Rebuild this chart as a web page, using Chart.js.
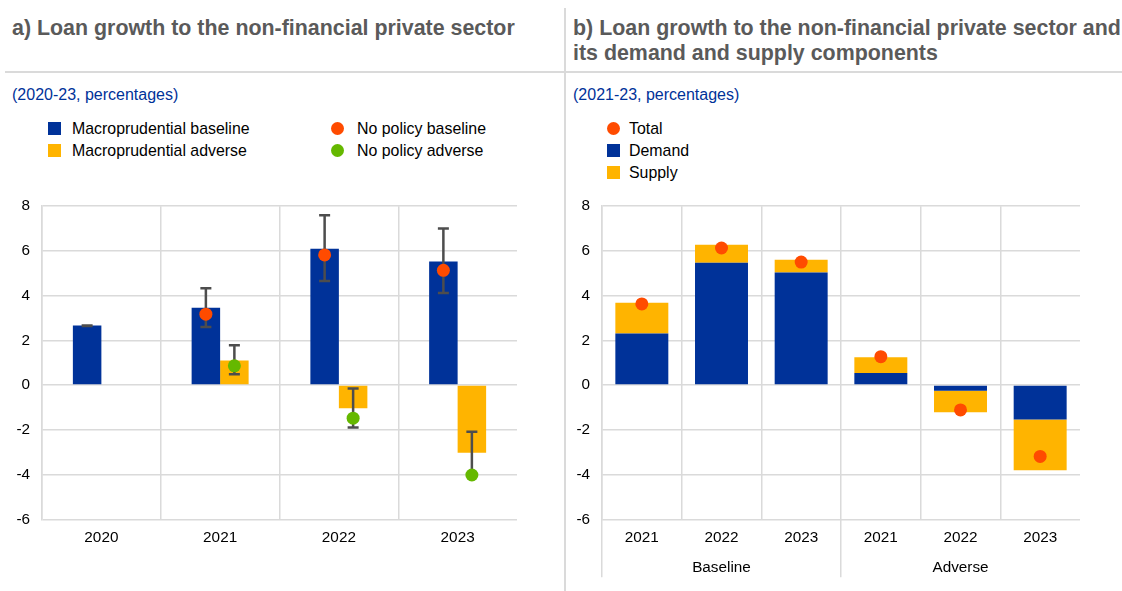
<!DOCTYPE html>
<html>
<head>
<meta charset="utf-8">
<script src="https://cdn.jsdelivr.net/npm/chart.js@4.4.1/dist/chart.umd.min.js"></script>
<style>
  body { margin: 0; width: 1122px; height: 591px; background: #fff; position: relative; overflow: hidden;
         font-family: Arial, "Liberation Sans", sans-serif; }
  .title { position: absolute; top: 16px; font-weight: bold; font-size: 21.4px; line-height: 25px; color: #5a5a5a; white-space: nowrap; }
  .sub { position: absolute; top: 86px; font-size: 16px; line-height: 18px; color: #003299; }
  .hr { position: absolute; left: 5px; right: 0; top: 71px; height: 2px; background: #dadada; }
  .vr { position: absolute; left: 564px; top: 8px; bottom: 0; width: 2px; background: #dadada; }
  .lg { position: absolute; font-size: 15.9px; line-height: 18px; color: #000; white-space: nowrap; }
  .sq, .dot { position: absolute; width: 13px; height: 13px; }
  .dot { border-radius: 50%; }
  canvas { position: absolute; }
</style>
</head>
<body>
<div class="title" style="left:12px">a) Loan growth to the non-financial private sector</div>
<div class="title" style="left:573px">b) Loan growth to the non-financial private sector and<br>its demand and supply components</div>
<div class="hr"></div>
<div class="vr"></div>
<div class="sub" style="left:12px">(2020-23, percentages)</div>
<div class="sub" style="left:573px">(2021-23, percentages)</div>

<!-- legend a -->
<div class="sq" style="left:48px;top:122px;background:#003299"></div>
<div class="lg" style="left:72px;top:120px">Macroprudential baseline</div>
<div class="sq" style="left:48px;top:144px;background:#ffb400"></div>
<div class="lg" style="left:72px;top:142px">Macroprudential adverse</div>
<div class="dot" style="left:331px;top:122px;background:#ff4b00"></div>
<div class="lg" style="left:357px;top:120px">No policy baseline</div>
<div class="dot" style="left:331px;top:144px;background:#65b800"></div>
<div class="lg" style="left:357px;top:142px">No policy adverse</div>

<!-- legend b -->
<div class="dot" style="left:607px;top:122px;background:#ff4b00"></div>
<div class="lg" style="left:629px;top:120px">Total</div>
<div class="sq" style="left:607px;top:144px;background:#003299"></div>
<div class="lg" style="left:629px;top:142px">Demand</div>
<div class="sq" style="left:607px;top:166px;background:#ffb400"></div>
<div class="lg" style="left:629px;top:164px">Supply</div>

<canvas id="chartA" width="560" height="375" style="left:0;top:185px"></canvas>
<canvas id="chartB" width="557" height="406" style="left:565px;top:185px"></canvas>

<script>
// ---- panel a data ----
const years = ['2020', '2021', '2022', '2023'];
const macroBaseline = [2.66, 3.46, 6.10, 5.53];
const macroAdverse = [null, 1.10, -1.04, -3.03];
const noPolicyBaseline = [null, 3.17, 5.82, 5.13];
const noPolicyAdverse = [null, 0.86, -1.48, -4.02];
const baselineLow = [2.64, 2.60, 4.66, 4.12];
const baselineHigh = [2.67, 4.33, 7.60, 7.00];
const adverseLow = [null, 0.48, -1.90, -4.02];
const adverseHigh = [null, 1.78, -0.15, -2.08];

// ---- panel b data ----
const scenarios = ['Baseline', 'Adverse'];
const scenarioYears = ['2021', '2022', '2023'];
const demand = [2.31, 5.47, 5.03, 0.54, -0.25, -1.54];
const supply = [1.37, 0.80, 0.57, 0.71, -0.96, -2.27];
const total = [3.63, 6.13, 5.50, 1.27, -1.11, -3.19];

const yTicks = { min: -6, max: 8, step: 2 };

const BLUE = '#003299', YELLOW = '#ffb400', RED = '#ff4b00', GREEN = '#65b800';
const GRID = '#dadada';
const tickFont = { family: 'Arial, "Liberation Sans", sans-serif', size: 15.3 };

Chart.defaults.animation = false;
Chart.defaults.plugins.tooltip.enabled = false;
Chart.defaults.plugins.legend.display = false;

// move the point markers onto the bar they belong to
const alignPoints = {
  id: 'alignPoints',
  afterDatasetsUpdate(chart) {
    chart.data.datasets.forEach((ds, i) => {
      if (ds.alignTo == null) return;
      const bars = chart.getDatasetMeta(ds.alignTo).data;
      chart.getDatasetMeta(i).data.forEach((p, j) => { p.x = bars[j].x; });
    });
  }
};

// whiskers drawn right after their bar dataset
const errorBars = {
  id: 'errorBars',
  afterDatasetDraw(chart, args) {
    const ds = chart.data.datasets[args.index];
    if (!ds.errLow) return;
    const y = chart.scales.y, ctx = chart.ctx;
    ctx.save();
    ctx.strokeStyle = '#4d4d4d';
    ctx.lineWidth = 2.5;
    args.meta.data.forEach((bar, i) => {
      const lo = ds.errLow[i], hi = ds.errHigh[i];
      if (lo == null) return;
      const y1 = y.getPixelForValue(lo), y2 = y.getPixelForValue(hi);
      ctx.beginPath();
      ctx.moveTo(bar.x, y1); ctx.lineTo(bar.x, y2);
      ctx.moveTo(bar.x - 5.5, y1); ctx.lineTo(bar.x + 5.5, y1);
      ctx.moveTo(bar.x - 5.5, y2); ctx.lineTo(bar.x + 5.5, y2);
      ctx.stroke();
    });
    ctx.restore();
  }
};

function yScale(width) {
  return {
    min: yTicks.min, max: yTicks.max,
    ticks: { stepSize: yTicks.step, color: '#000', font: tickFont, padding: 12 },
    grid: { color: GRID, lineWidth: 1.5, drawTicks: false },
    border: { color: GRID, width: 1.5 },
    afterFit: s => { s.width = width; }
  };
}

new Chart(document.getElementById('chartA'), {
  type: 'bar',
  data: {
    labels: years,
    datasets: [
      { label: 'Macroprudential baseline', data: macroBaseline, backgroundColor: BLUE, order: 2,
        errLow: baselineLow, errHigh: baselineHigh },
      { label: 'Macroprudential adverse', data: macroAdverse, backgroundColor: YELLOW, order: 2,
        errLow: adverseLow, errHigh: adverseHigh },
      { type: 'line', label: 'No policy baseline', data: noPolicyBaseline, showLine: false, order: 1, alignTo: 0,
        pointRadius: 6.5, pointBackgroundColor: RED, pointBorderWidth: 0 },
      { type: 'line', label: 'No policy adverse', data: noPolicyAdverse, showLine: false, order: 1, alignTo: 1,
        pointRadius: 6.5, pointBackgroundColor: GREEN, pointBorderWidth: 0 }
    ]
  },
  options: {
    responsive: false,
    categoryPercentage: 0.48,
    barPercentage: 1,
    layout: { padding: { top: 19.5, right: 43, left: 0, bottom: 0 } },
    scales: {
      x: {
        ticks: { color: '#000', font: tickFont, padding: 9.5 },
        grid: { color: c => c.type === 'tick' ? GRID : 'transparent', lineWidth: 1.5, drawTicks: false },
        border: { display: false },
        afterFit: s => { s.height = 40.7; }
      },
      y: yScale(42)
    }
  },
  plugins: [alignPoints, errorBars]
});

const labelsB = scenarios.flatMap(s => scenarioYears.map((yr, i) => i === 1 ? [yr, s] : yr));

new Chart(document.getElementById('chartB'), {
  type: 'bar',
  data: {
    labels: labelsB,
    datasets: [
      { type: 'line', label: 'Total', data: total, showLine: false, order: 1,
        pointRadius: 6.5, pointBackgroundColor: RED, pointBorderWidth: 0 },
      { label: 'Demand', data: demand, backgroundColor: BLUE, order: 2 },
      { label: 'Supply', data: supply, backgroundColor: YELLOW, order: 2 }
    ]
  },
  options: {
    responsive: false,
    categoryPercentage: 0.665,
    barPercentage: 1,
    layout: { padding: { top: 17.7, right: 42, left: 0, bottom: 0 } },
    scales: {
      x: {
        stacked: true,
        ticks: { color: '#000', font: { ...tickFont, lineHeight: 30 / 15.3 }, padding: -54.3 },
        grid: {
          color: c => c.type === 'tick' ? GRID : 'transparent',
          tickColor: c => c.type === 'tick' && c.index % scenarioYears.length === 0 ? GRID : 'transparent',
          lineWidth: 1.5, drawTicks: true, tickLength: 58
        },
        border: { display: false },
        afterFit: s => { s.height = 71.7; }
      },
      y: { ...yScale(37), stacked: true }
    }
  }
});
</script>
</body>
</html>
